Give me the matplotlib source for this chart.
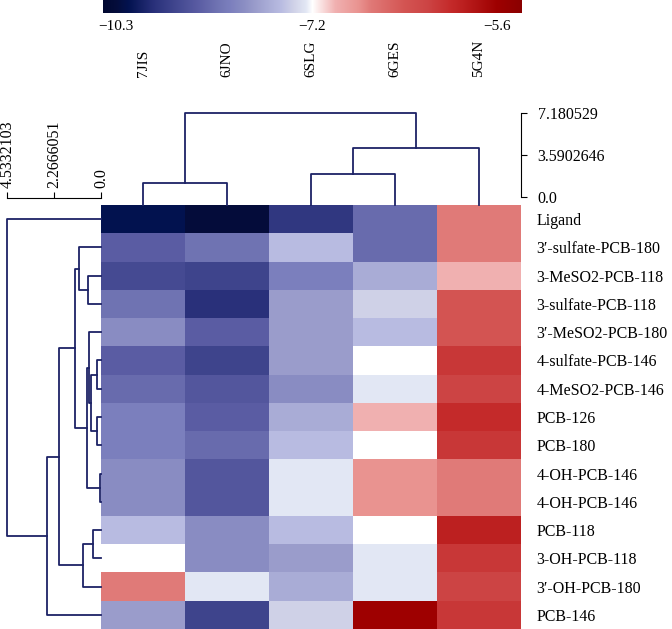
import numpy as np
import matplotlib
matplotlib.use('Agg')
import matplotlib.pyplot as plt
from matplotlib.colors import LinearSegmentedColormap, TwoSlopeNorm
from matplotlib import transforms

plt.rcParams['font.family'] = ['Liberation Serif', 'DejaVu Serif']

# ------------------------------------------------------------------
# Data
# ------------------------------------------------------------------
proteins = ['7JIS', '6JNO', '6SLG', '6GES', '5G4N']
compounds = [
    'Ligand',
    '3\u2032-sulfate-PCB-180',
    '3-MeSO2-PCB-118',
    '3-sulfate-PCB-118',
    '3\u2032-MeSO2-PCB-180',
    '4-sulfate-PCB-146',
    '4-MeSO2-PCB-146',
    'PCB-126',
    'PCB-180',
    '4-OH-PCB-146',
    '4-OH-PCB-146',
    'PCB-118',
    '3-OH-PCB-118',
    '3\u2032-OH-PCB-180',
    'PCB-146',
]

# binding energies, one row per compound, columns in the order of proteins
ligand = [-10.1, -10.3, -9.6, -8.8, -6.7]
sulf_180 = [-9.0, -8.7, -7.7, -8.8, -6.7]
meso2_118 = [-9.3, -9.4, -8.5, -7.9, -7.0]
sulf_118 = [-8.7, -9.7, -8.1, -7.5, -6.4]
meso2_180 = [-8.3, -9.0, -8.1, -7.7, -6.4]
sulf_146 = [-9.0, -9.4, -8.1, -7.2, -6.1]
meso2_146 = [-8.8, -9.1, -8.3, -7.3, -6.2]
pcb_126 = [-8.5, -9.0, -7.9, -7.0, -6.0]
pcb_180 = [-8.5, -8.8, -7.7, -7.2, -6.1]
oh_146_a = [-8.3, -9.1, -7.3, -6.8, -6.7]
oh_146_b = [-8.3, -9.1, -7.3, -6.8, -6.7]
pcb_118 = [-7.7, -8.3, -7.7, -7.2, -5.9]
oh_118 = [-7.2, -8.3, -8.1, -7.3, -6.1]
oh_180 = [-6.7, -7.3, -7.9, -7.3, -6.2]
pcb_146 = [-8.1, -9.4, -7.5, -5.6, -6.1]

energy = np.array([ligand, sulf_180, meso2_118, sulf_118, meso2_180, sulf_146,
                   meso2_146, pcb_126, pcb_180, oh_146_a, oh_146_b, pcb_118,
                   oh_118, oh_180, pcb_146])

# linkage (child a, child b, height); new clusters numbered after the leaves
col_links = [(0, 1, 1.22), (2, 3, 1.96), (6, 4, 4.21), (5, 7, 7.180529)]
row_links = [
    (9, 10, 0.03),   # 15
    (5, 6, 0.21),    # 16
    (7, 8, 0.21),    # 17
    (16, 17, 0.48),  # 18
    (4, 18, 0.57),   # 19
    (19, 15, 0.69),  # 20
    (2, 3, 0.61),    # 21
    (1, 21, 1.05),   # 22
    (22, 20, 1.26),  # 23
    (11, 12, 0.37),  # 24
    (24, 13, 0.86),  # 25
    (23, 25, 2.05),  # 26
    (26, 14, 2.60),  # 27
    (0, 27, 4.5332103),  # 28
]

cbar_ticks = [-10.3, -7.2, -5.6]
col_scale = [0.0, 3.5902646, 7.180529]
row_scale = [0.0, 2.2666051, 4.5332103]

# colour scale anchors
vmin, vcenter, vmax = -10.505, -7.2, -5.38
cmap_values = [vmin, -10.3, -10.1, -9.7, -9.4, -9.0, -8.7, -8.5, -8.3, -8.1,
               -7.9, -7.7, -7.5, -7.3, -7.2, -7.0, -6.8, -6.7, -6.4, -6.2,
               -6.0, -5.9, -5.6, vmax]
cmap_colors = ['#000830', '#040c3a', '#02124f', '#29307a', '#3e448c', '#5a5ca3',
               '#6f73b2', '#7b7fbd', '#898cc2', '#9a9ccb', '#a9acd6', '#b8bbe1',
               '#cfd1e7', '#e2e7f4', '#ffffff', '#f0b0b0', '#e99390', '#e07a78',
               '#d35452', '#cc4444', '#c42a2a', '#bc2020', '#9e0000', '#8a0000']

# ------------------------------------------------------------------
# Helpers
# ------------------------------------------------------------------
def dendro_segments(links, n, base):
    pos = {i: i + 0.5 for i in range(n)}
    hgt = {i: base for i in range(n)}
    segs = []
    for k, (a, b, h) in enumerate(links):
        segs.append(([pos[a], pos[a], pos[b], pos[b]], [hgt[a], h, h, hgt[b]]))
        pos[n + k] = (pos[a] + pos[b]) / 2
        hgt[n + k] = h
    return segs

norm = TwoSlopeNorm(vmin=vmin, vcenter=vcenter, vmax=vmax)
stops = np.clip(np.asarray(norm(np.array(cmap_values))), 0, 1)
stops[0], stops[-1] = 0.0, 1.0
cmap = LinearSegmentedColormap.from_list('dock', list(zip(stops, cmap_colors)), N=4096)

W, H = 672, 629
line_col = '#1c2266'
lnwidth = 1.3

fig = plt.figure(figsize=(W / 100, H / 100), dpi=100)

def box(x0, y0, x1, y1):
    return [x0 / W, 1 - y1 / H, (x1 - x0) / W, (y1 - y0) / H]

ax_hm = fig.add_axes(box(101, 205, 521, 629))
ax_col = fig.add_axes(box(101, 112.7, 521, 205))
ax_row = fig.add_axes(box(7.3, 205, 101, 629))
cax = fig.add_axes(box(103, 0, 522, 13))

# Heatmap
mesh = ax_hm.pcolormesh(energy, cmap=cmap, norm=norm)
ax_hm.set_xlim(0, len(proteins))
ax_hm.set_ylim(len(compounds), 0)
for s in ax_hm.spines.values():
    s.set_visible(False)
ax_hm.set_xticks([])
ax_hm.yaxis.tick_right()
ax_hm.set_yticks(np.arange(len(compounds)) + 0.5, compounds)
ax_hm.tick_params(axis='y', length=0, pad=11, labelsize=11.5)

# column labels
tr = transforms.blended_transform_factory(ax_hm.transData, fig.transFigure)
for i, name in enumerate(proteins):
    ax_hm.text(i + 0.5, 1 - 77 / H, name, transform=tr, rotation=90,
               ha='center', va='bottom', fontsize=11)

# Column dendrogram
col_base = -0.68
for xs, ys in dendro_segments(col_links, len(proteins), col_base):
    ax_col.plot(xs, ys, color=line_col, linewidth=lnwidth, clip_on=False)
ax_col.set_xlim(0, len(proteins))
ax_col.set_ylim(col_base, col_scale[-1])
for side in ['top', 'left', 'bottom']:
    ax_col.spines[side].set_visible(False)
ax_col.spines['right'].set_bounds(col_scale[0], col_scale[-1])
ax_col.yaxis.tick_right()
ax_col.set_yticks(col_scale, [str(v) for v in col_scale])
ax_col.set_xticks([])
ax_col.tick_params(axis='y', length=4, pad=8, labelsize=11.5)
ax_col.patch.set_visible(False)

# Row dendrogram
for xs, ys in dendro_segments(row_links, len(compounds), 0.0):
    ax_row.plot(ys, xs, color=line_col, linewidth=lnwidth, clip_on=False)
ax_row.set_ylim(len(compounds), 0)
ax_row.set_xlim(row_scale[-1], 0)
for side in ['right', 'left', 'bottom']:
    ax_row.spines[side].set_visible(False)
ax_row.spines['top'].set_position(('outward', 5))
ax_row.spines['top'].set_bounds(row_scale[0], row_scale[-1])
ax_row.xaxis.tick_top()
ax_row.set_xticks(row_scale, [str(v) for v in row_scale], rotation=90)
ax_row.set_yticks([])
ax_row.tick_params(axis='x', length=4, pad=3, labelsize=11.5)
ax_row.patch.set_visible(False)

# Colour bar
cb = fig.colorbar(mesh, cax=cax, orientation='horizontal')
cb.set_ticks(cbar_ticks)
cb.outline.set_visible(False)
cax.tick_params(length=0, pad=5, labelsize=11)

fig.savefig('out.png', dpi=100)
